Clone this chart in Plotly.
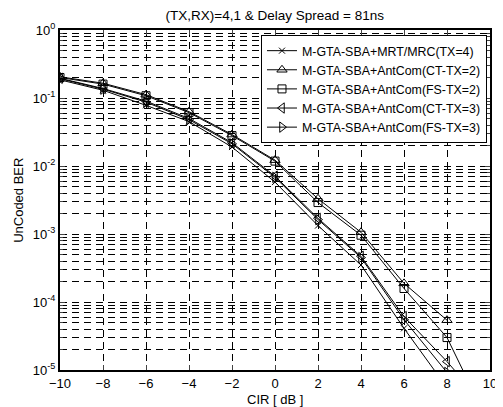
import plotly.graph_objects as go

cir = [-10, -8, -6, -4, -2, 0, 2, 4, 6, 8, 10]

names = [
    "M-GTA-SBA+MRT/MRC(TX=4)",
    "M-GTA-SBA+AntCom(CT-TX=2)",
    "M-GTA-SBA+AntCom(FS-TX=2)",
    "M-GTA-SBA+AntCom(CT-TX=3)",
    "M-GTA-SBA+AntCom(FS-TX=3)",
]

ber_mrt_tx4 = [0.185, 0.130, 0.078, 0.045, 0.0190, 0.0058, 0.00133, 0.00035, 4.1e-5, 5.5e-6, None]
ber_ct_tx2 = [0.205, 0.165, 0.112, 0.063, 0.0290, 0.0122, 0.0033, 0.00106, 1.88e-4, 5.4e-5, None]
ber_fs_tx2 = [0.200, 0.160, 0.108, 0.061, 0.0280, 0.0118, 0.0029, 0.00096, 1.58e-4, 3.0e-5, 1.5e-6]
ber_ct_tx3 = [0.195, 0.138, 0.090, 0.050, 0.0220, 0.0071, 0.00170, 0.00047, 6.1e-5, 1.33e-5, 2.5e-6]
ber_fs_tx3 = [0.192, 0.135, 0.087, 0.048, 0.0212, 0.0068, 0.00163, 0.00045, 5.5e-5, 9.2e-6, None]

series = [ber_mrt_tx4, ber_ct_tx2, ber_fs_tx2, ber_ct_tx3, ber_fs_tx3]
symbols = ["x-thin-open", "triangle-up-open", "square-open", "triangle-left-open", "triangle-right-open"]
sizes = [6, 9, 8, 9, 9]

ytick_vals = [1e-5, 1e-4, 1e-3, 1e-2, 1e-1, 1]
ytick_text = ["10<sup>-5</sup>", "10<sup>-4</sup>", "10<sup>-3</sup>", "10<sup>-2</sup>", "10<sup>-1</sup>", "10<sup>0</sup>"]
xtick_vals = [-10, -8, -6, -4, -2, 0, 2, 4, 6, 8, 10]

fig = go.Figure()
for name, ys, sym, sz in zip(names, series, symbols, sizes):
    fig.add_trace(go.Scatter(
        x=cir, y=ys, name=name, mode="lines+markers",
        line=dict(color="black", width=1),
        marker=dict(symbol=sym, size=sz, color="black",
                    line=dict(color="black", width=1)),
    ))

# page body has an 8px margin, so the figure is sized/offset to compensate
grid = dict(showgrid=True, gridcolor="black", gridwidth=1, griddash="7px,5px")
fig.update_layout(
    width=495, height=399,
    margin=dict(l=52, r=13, t=22, b=37),
    paper_bgcolor="white", plot_bgcolor="white",
    font=dict(family="Liberation Sans, Arial", size=13, color="black"),
    title=dict(text="(TX,RX)=4,1 & Delay Spread = 81ns", x=0.539, xanchor="center",
               y=0.982, yanchor="middle", font=dict(size=13.5)),
    showlegend=True,
    legend=dict(x=0.993, y=0.985, xanchor="right", yanchor="top",
                bgcolor="white", bordercolor="black", borderwidth=1,
                font=dict(size=12.4), tracegroupgap=0, itemwidth=30),
    xaxis=dict(range=[-10, 10], tickvals=xtick_vals, ticks="inside", ticklen=5,
               showline=True, linecolor="black", linewidth=2, mirror="ticks",
               automargin=False, zeroline=False, **grid),
    yaxis=dict(type="log", range=[-5, 0], tickvals=ytick_vals, ticktext=ytick_text,
               ticks="inside", ticklen=5,
               showline=True, linecolor="black", linewidth=2, mirror="ticks",
               automargin=False,
               minor=dict(tickvals=[m * 10.0 ** e for e in range(-5, 0) for m in range(2, 10)],
                          ticks="inside", ticklen=3, showgrid=True,
                          gridcolor="black", gridwidth=1, griddash="7px,5px"),
               **grid),
    annotations=[
        dict(text="CIR [ dB ]", xref="paper", yref="paper", x=0.5, y=-0.086,
             xanchor="center", yanchor="middle", showarrow=False, font=dict(size=13)),
        dict(text="UnCoded BER", xref="paper", yref="paper", x=-0.098, y=0.5,
             xanchor="center", yanchor="middle", textangle=-90, showarrow=False,
             font=dict(size=13)),
    ],
)

fig.write_html("out.html")
